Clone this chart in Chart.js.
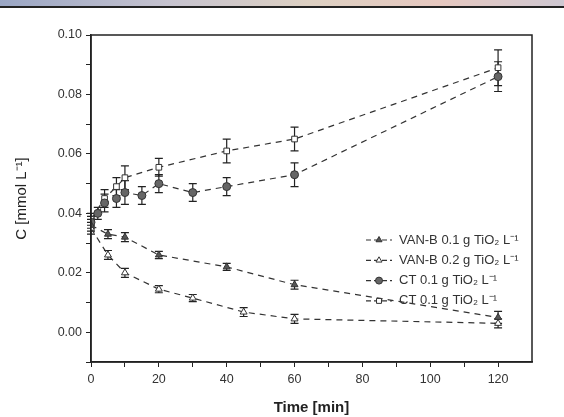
<!DOCTYPE html>
<html><head><meta charset="utf-8">
<script src="https://cdn.jsdelivr.net/npm/chart.js@4.4.1/dist/chart.umd.min.js"></script>
<style>
html,body{margin:0;padding:0;background:#fff;overflow:hidden;}
#wrap{position:absolute;left:0;top:0;width:564px;height:417px;}
#topbar{position:absolute;left:0;top:0;width:564px;height:6px;background:linear-gradient(90deg,#9aa6c4,#c6c3cf 30%,#ddd0c2 55%,#e6c8c0 78%,#cfc8d2);border-bottom:2px solid #222;}
</style></head><body>
<div id="wrap"><canvas id="c" width="564" height="417"></canvas></div>
<div id="topbar"></div>
<script>
// ---- data ----
const seriesLabels = ['VAN-B 0.1 g TiO\u2082 L\u207B\u00B9','VAN-B 0.2 g TiO\u2082 L\u207B\u00B9','CT 0.1 g TiO\u2082 L\u207B\u00B9','CT 0.1 g TiO\u2082 L\u207B\u00B9'];
const vanB01Time = [0,5,10,20,40,60,120];
const vanB01Conc = [0.036,0.033,0.032,0.026,0.022,0.016,0.005];
const vanB01Err  = [0.002,0.0015,0.0015,0.0012,0.0012,0.0015,0.002];
const vanB02Time = [0,5,10,20,30,45,60,120];
const vanB02Conc = [0.035,0.026,0.020,0.0145,0.0115,0.0068,0.0045,0.003];
const vanB02Err  = [0.002,0.0015,0.0015,0.0012,0.0012,0.0015,0.0015,0.0015];
const ct1Time = [0,2,4,7.5,10,15,20,30,40,60,120];
const ct1Conc = [0.037,0.040,0.0435,0.045,0.047,0.046,0.050,0.047,0.049,0.053,0.086];
const ct1Err  = [0.002,0.002,0.003,0.003,0.004,0.003,0.003,0.003,0.003,0.004,0.005];
const ct2Time = [0,4,7.5,10,20,40,60,120];
const ct2Conc = [0.038,0.045,0.049,0.052,0.0555,0.061,0.065,0.089];
const ct2Err  = [0.002,0.003,0.003,0.004,0.003,0.004,0.004,0.006];
const xTickValues = [0,10,20,30,40,50,60,70,80,90,100,110,120];
const yTickValues = [-0.01,0,0.01,0.02,0.03,0.04,0.05,0.06,0.07,0.08,0.09,0.10];

function pts(t,c){return t.map((v,i)=>({x:v,y:c[i]}));}

const styles = [
  {pointStyle:'triangle', fill:'#555', r:4},
  {pointStyle:'triangle', fill:'#fff', r:4},
  {pointStyle:'circle', fill:'#666', r:4},
  {pointStyle:'rect', fill:'#fff', r:4}
];
const errs = [vanB01Err, vanB02Err, ct1Err, ct2Err];
const data = [pts(vanB01Time,vanB01Conc), pts(vanB02Time,vanB02Conc), pts(ct1Time,ct1Conc), pts(ct2Time,ct2Conc)];

const datasets = data.map((d,i)=>({
  label: seriesLabels[i],
  data: d,
  showLine: true,
  borderColor: '#333',
  borderWidth: 1.2,
  borderDash: [6,5],
  pointStyle: styles[i].pointStyle,
  pointRadius: styles[i].r,
  pointBackgroundColor: styles[i].fill,
  pointBorderColor: '#333',
  pointBorderWidth: 1,
  fill: false,
  tension: 0
}));

const errorBars = {
  id:'errorBars',
  beforeDatasetsDraw(chart){
    const ctx = chart.ctx, xs = chart.scales.x, ys = chart.scales.y;
    ctx.save();
    ctx.strokeStyle = '#222'; ctx.lineWidth = 1.2; ctx.setLineDash([]);
    chart.data.datasets.forEach((ds,i)=>{
      ds.data.forEach((p,j)=>{
        const e = errs[i][j];
        const px = xs.getPixelForValue(p.x);
        const y1 = ys.getPixelForValue(p.y+e), y2 = ys.getPixelForValue(p.y-e);
        ctx.beginPath();
        ctx.moveTo(px,y1); ctx.lineTo(px,y2);
        ctx.moveTo(px-4,y1); ctx.lineTo(px+4,y1);
        ctx.moveTo(px-4,y2); ctx.lineTo(px+4,y2);
        ctx.stroke();
      });
    });
    ctx.restore();
  }
};

const frameAndLegend = {
  id:'frameAndLegend',
  afterDraw(chart){
    const ctx = chart.ctx, a = chart.chartArea;
    ctx.save();
    ctx.strokeStyle = '#222'; ctx.lineWidth = 1.5; ctx.setLineDash([]);
    ctx.strokeRect(a.left, a.top, a.right-a.left, a.bottom-a.top);
    // legend
    const x0 = 366, y0 = 240, dy = 20.3;
    chart.data.datasets.forEach((ds,i)=>{
      const y = y0 + i*dy;
      ctx.strokeStyle = '#333'; ctx.lineWidth = 1.2; ctx.setLineDash([5,3]);
      ctx.beginPath(); ctx.moveTo(x0,y); ctx.lineTo(x0+26,y); ctx.stroke();
      ctx.setLineDash([]);
      ctx.fillStyle = ds.pointBackgroundColor; ctx.strokeStyle = '#333'; ctx.lineWidth = 1;
      Chart.helpers.drawPoint(ctx,{pointStyle:ds.pointStyle,radius:3.5,rotation:0,borderWidth:1},x0+13,y);
      ctx.fillStyle = '#333';
      ctx.font = '13px "Liberation Sans", Arial, sans-serif';
      ctx.textBaseline = 'middle'; ctx.textAlign = 'left';
      ctx.fillText(ds.label, x0+33, y);
    });
    ctx.restore();
  }
};

new Chart(document.getElementById('c'), {
  type:'scatter',
  data:{datasets},
  plugins:[errorBars, frameAndLegend],
  options:{
    responsive:false, animation:false,
    layout:{padding:{top:35,right:32,left:0,bottom:0}},
    plugins:{legend:{display:false}, tooltip:{enabled:false}},
    scales:{
      x:{
        type:'linear', min:0, max:130,
        afterBuildTicks(s){ s.ticks = xTickValues.map(v=>({value:v})); },
        afterFit(s){ s.height = 55; },
        ticks:{autoSkip:false, maxRotation:0, color:'#333', padding:5,
          font:{family:'"Liberation Sans", Arial, sans-serif', size:12.5},
          callback:(v)=> (v%20===0 ? String(v) : '')},
        grid:{drawOnChartArea:false, drawTicks:true, tickLength:5, color:'#222', tickColor:'#222'},
        border:{display:true, color:'#222', width:1.5},
        title:{display:true, text:'Time [min]', color:'#222', padding:{top:4,bottom:0},
          font:{family:'"Liberation Sans", Arial, sans-serif', size:15, weight:'bold'}}
      },
      y:{
        type:'linear', min:-0.01, max:0.10,
        afterBuildTicks(s){ s.ticks = yTickValues.map(v=>({value:v})); },
        afterFit(s){ s.width = 91; },
        ticks:{autoSkip:false, color:'#333', padding:4,
          font:{family:'"Liberation Sans", Arial, sans-serif', size:12.5},
          callback:(v)=>{ const k = Math.round(v*100); return (k>=0 && k%2===0) ? v.toFixed(2) : ''; }},
        grid:{drawOnChartArea:false, drawTicks:true, tickLength:5, color:'#222', tickColor:'#222'},
        border:{display:true, color:'#222', width:1.5},
        title:{display:true, text:'C [mmol L\u207B\u00B9]', color:'#222', padding:{top:13,bottom:0},
          font:{family:'"Liberation Sans", Arial, sans-serif', size:15}}
      }
    }
  }
});
</script>
</body></html>
